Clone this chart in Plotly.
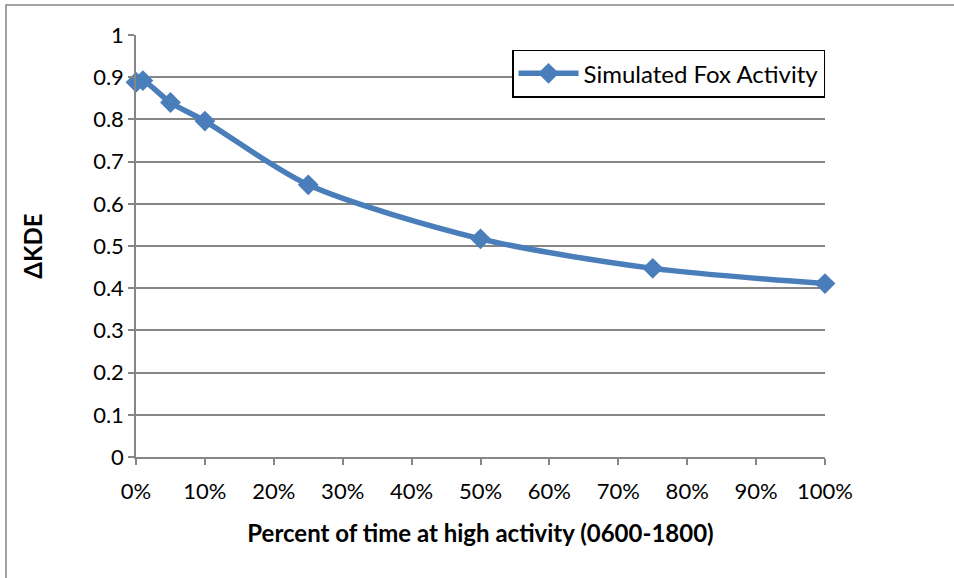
import plotly.graph_objects as go

pct_time = [0.0, 0.01, 0.05, 0.10, 0.25, 0.50, 0.75, 1.00]
delta_kde = [0.888, 0.892, 0.840, 0.796, 0.645, 0.517, 0.447, 0.411]
series_name = "Simulated Fox Activity"
x_ticks = [i / 10 for i in range(11)]
y_ticks = [i / 10 for i in range(11)]
y_tick_labels = ["0", "0.1", "0.2", "0.3", "0.4", "0.5", "0.6", "0.7", "0.8", "0.9", "1"]

blue = "#4A7EBB"
gray = "#868686"
font = "Lato, Calibri, Carlito, sans-serif"
fs = 22
fs_title = 24

fig = go.Figure()
fig.add_trace(go.Scatter(
    x=pct_time, y=delta_kde, name=series_name, mode="lines+markers",
    line=dict(color=blue, width=5.5, shape="spline", smoothing=0.8),
    marker=dict(symbol="diamond", size=16, color=blue),
    cliponaxis=False,
))

fig.update_layout(
    width=954, height=578,
    margin=dict(l=136, r=129, t=35, b=121),
    paper_bgcolor="white", plot_bgcolor="white",
    font=dict(family=font, size=fs, color="black"),
    showlegend=True,
    legend=dict(x=1.0, y=0.965, xanchor="right", yanchor="top",
                bordercolor="black", borderwidth=1.5, bgcolor="white",
                font=dict(size=fs_title), itemwidth=60),
    xaxis=dict(range=[0, 1], tickvals=x_ticks, tickformat=".0%",
               showgrid=False, zeroline=False, showline=True, linecolor=gray, linewidth=1.5,
               ticks="outside", ticklen=6, tickcolor=gray, tickwidth=1.5,
               ticklabelstandoff=8,
               title=dict(text="<b>Percent of time at high activity (0600-1800)</b>",
                          font=dict(size=fs_title), standoff=22),
               tickfont=dict(size=fs)),
    yaxis=dict(range=[0, 1], tickvals=y_ticks, ticktext=y_tick_labels,
               showgrid=True, gridcolor=gray, gridwidth=1.5, zeroline=False,
               showline=True, linecolor=gray, linewidth=1.5,
               ticks="outside", ticklen=6, tickcolor=gray, tickwidth=1.5,
               title=dict(text="<b>ΔKDE</b>", font=dict(size=fs_title), standoff=44),
               tickfont=dict(size=fs)),
)

# outer chart-area border (left and top visible)
fig.add_shape(type="rect", xref="paper", yref="paper",
              x0=(6 - 136) / 689, x1=2.0, y0=-1.0, y1=(457 - 5) / 422,
              line=dict(color=gray, width=1.5), layer="below")

fig.write_html("out.html",
               config={"displayModeBar": False},
               post_script="document.body.style.margin='0';document.body.style.overflow='hidden';")
